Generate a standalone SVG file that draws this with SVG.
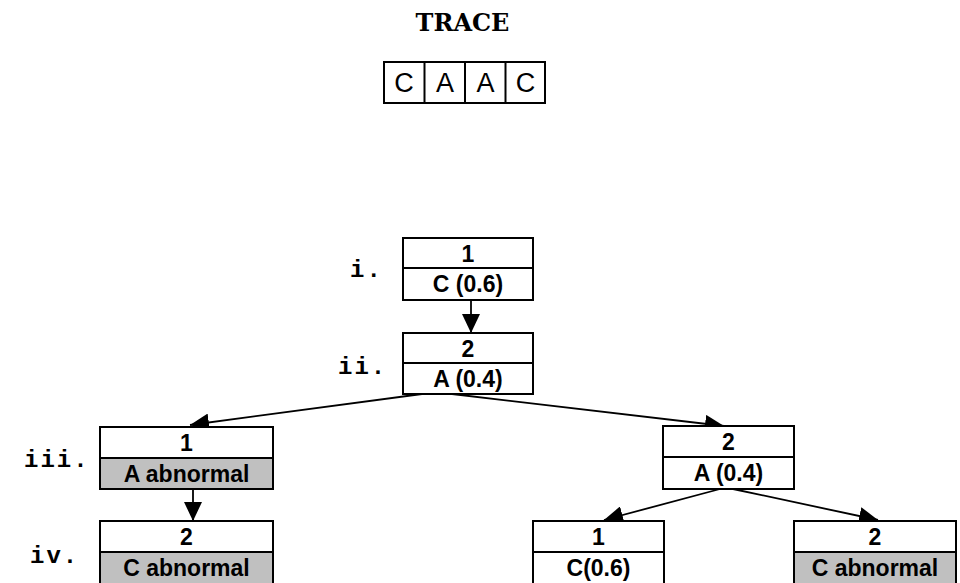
<svg xmlns="http://www.w3.org/2000/svg" width="960" height="583" viewBox="0 0 960 583">
  <style>
    .box { fill: #ffffff; stroke: #000000; stroke-width: 2; }
    .shade { fill: #c0c0c0; stroke: #000000; stroke-width: 2; }
    .lbl { font-family: "Liberation Sans", Arial, sans-serif; font-size: 23px; font-weight: bold; fill: #000000; text-anchor: middle; }
    .step { font-family: "Liberation Mono", "Courier New", monospace; font-size: 24px; font-weight: bold; fill: #000000; letter-spacing: 2px; }
    .title { font-family: "DejaVu Serif", "Liberation Serif", serif; font-size: 24px; font-weight: bold; fill: #000000; text-anchor: middle; }
    .cell { font-family: "Liberation Sans", Arial, sans-serif; font-size: 27px; fill: #000000; text-anchor: middle; }
    .edge { stroke: #000000; stroke-width: 1.8; fill: none; marker-end: url(#arrow); }
  </style>
  <defs>
    <marker id="arrow" markerUnits="userSpaceOnUse" markerWidth="20" markerHeight="18" refX="19" refY="9" orient="auto">
      <path d="M0,0 L19,9 L0,18 Z" fill="#000000"/>
    </marker>
  </defs>

  <rect width="960" height="583" fill="#ffffff"/>

  <!-- trace sequence -->
  <g id="trace">
    <text class="title" x="462.5" y="31">TRACE</text>
    <rect class="box" x="384" y="62" width="161" height="41"/>
    <line x1="424.5" y1="62" x2="424.5" y2="103" stroke="#000" stroke-width="2"/>
    <line x1="465" y1="62" x2="465" y2="103" stroke="#000" stroke-width="2"/>
    <line x1="505.5" y1="62" x2="505.5" y2="103" stroke="#000" stroke-width="2"/>
    <text class="cell" x="404" y="92">C</text>
    <text class="cell" x="445" y="92">A</text>
    <text class="cell" x="485.5" y="92">A</text>
    <text class="cell" x="525.5" y="92">C</text>
  </g>

  <!-- step labels -->
  <g id="steps">
    <text class="step" x="350" y="277">i.</text>
    <text class="step" x="338" y="374">ii.</text>
    <text class="step" x="24" y="467">iii.</text>
    <text class="step" x="30" y="563">iv.</text>
  </g>

  <!-- connectors -->
  <g id="connectors">
    <line class="edge" x1="471" y1="300" x2="471" y2="333"/>
    <line class="edge" x1="422" y1="394" x2="190" y2="425"/>
    <line class="edge" x1="452" y1="394" x2="724" y2="426"/>
    <line class="edge" x1="193" y1="489" x2="193" y2="521"/>
    <line class="edge" x1="720" y1="489" x2="604" y2="520"/>
    <line class="edge" x1="733" y1="489" x2="878" y2="520"/>
  </g>

  <g id="node-i">
    <rect class="box" x="403" y="238" width="130" height="30"/>
    <rect class="box" x="403" y="268" width="130" height="32"/>
    <text class="lbl" x="468" y="262">1</text>
    <text class="lbl" x="468" y="292">C (0.6)</text>
  </g>

  <g id="node-ii">
    <rect class="box" x="403" y="333" width="130" height="30"/>
    <rect class="box" x="403" y="363" width="130" height="31"/>
    <text class="lbl" x="468" y="357">2</text>
    <text class="lbl" x="468" y="387">A (0.4)</text>
  </g>

  <g id="node-iii">
    <rect class="box" x="100" y="427" width="173" height="31"/>
    <rect class="shade" x="100" y="458" width="173" height="31"/>
    <text class="lbl" x="186.5" y="451">1</text>
    <text class="lbl" x="186.5" y="482">A abnormal</text>
  </g>

  <g id="node-iv">
    <rect class="box" x="100" y="521" width="173" height="31"/>
    <rect class="shade" x="100" y="552" width="173" height="40"/>
    <text class="lbl" x="186.5" y="545">2</text>
    <text class="lbl" x="186.5" y="576">C abnormal</text>
  </g>

  <g id="node-right">
    <rect class="box" x="663" y="426" width="131" height="31"/>
    <rect class="box" x="663" y="457" width="131" height="32"/>
    <text class="lbl" x="728.5" y="450">2</text>
    <text class="lbl" x="728.5" y="481">A (0.4)</text>
  </g>

  <g id="node-right-1">
    <rect class="box" x="533" y="521" width="131" height="31"/>
    <rect class="box" x="533" y="552" width="131" height="40"/>
    <text class="lbl" x="598.5" y="545">1</text>
    <text class="lbl" x="598.5" y="576">C(0.6)</text>
  </g>

  <g id="node-right-2">
    <rect class="box" x="794" y="521" width="162" height="31"/>
    <rect class="shade" x="794" y="552" width="162" height="40"/>
    <text class="lbl" x="875" y="545">2</text>
    <text class="lbl" x="875" y="576">C abnormal</text>
  </g>
</svg>
